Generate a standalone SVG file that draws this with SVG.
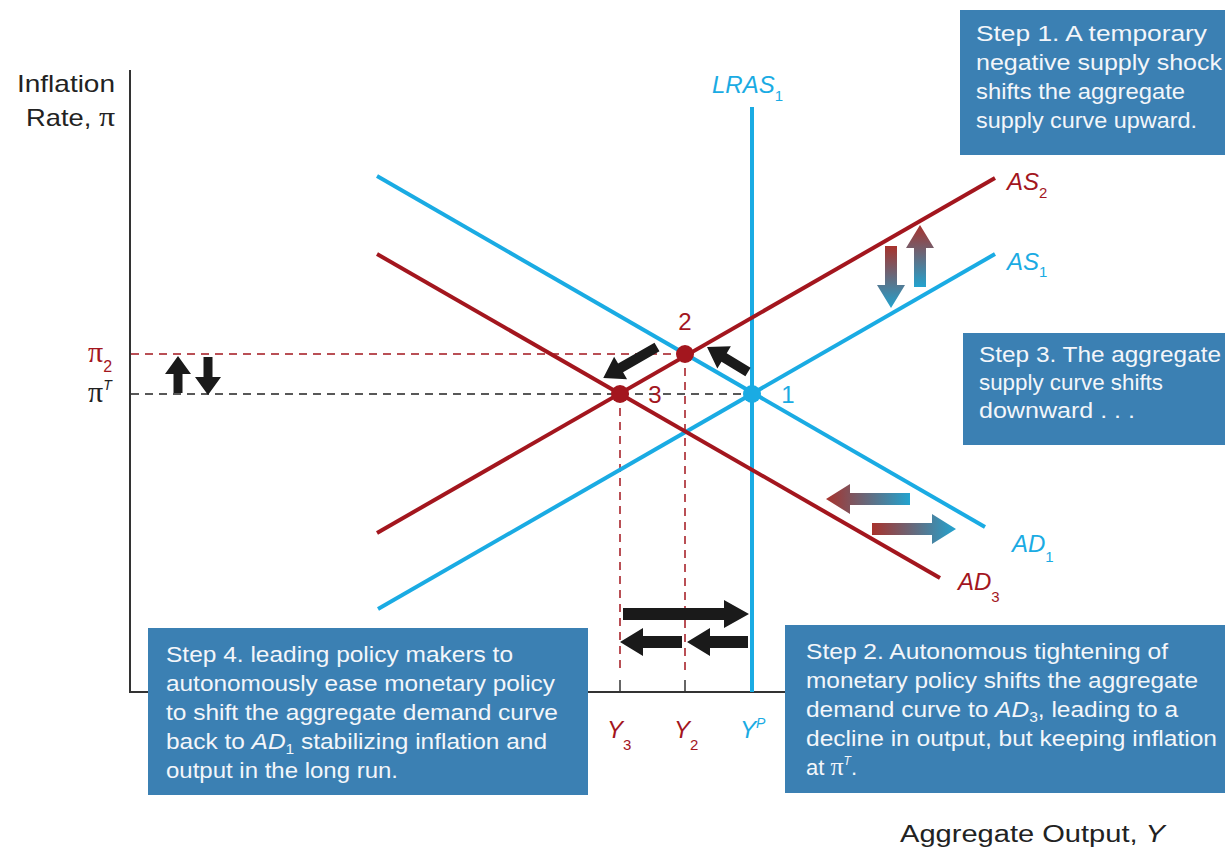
<svg xmlns="http://www.w3.org/2000/svg" width="1225" height="851" viewBox="0 0 1225 851">
<style>
.t{font-family:"Liberation Sans",Arial,sans-serif;}
.box{fill:#3b80b3;}
.bt{font-family:"Liberation Sans",Arial,sans-serif;font-size:22px;fill:#f3f6fa;}
.blue{stroke:#1aabe3;stroke-width:4;fill:none;}
.red{stroke:#a3161e;stroke-width:4;fill:none;}
.dr{stroke:#a3161e;stroke-width:1.5;stroke-dasharray:8 6;fill:none;}
.dk{stroke:#222;stroke-width:1.5;stroke-dasharray:8 6;fill:none;}
.lab{font-family:"Liberation Sans",Arial,sans-serif;font-size:24px;font-style:italic;}
.pi{font-family:"Liberation Serif","Times New Roman",serif;font-style:normal;}
.blk{fill:#1a1a1a;}
</style>
<defs>
<linearGradient id="gv" x1="0" y1="0" x2="0" y2="1"><stop offset="0" stop-color="#a8322c"/><stop offset="1" stop-color="#22a3cf"/></linearGradient>
<linearGradient id="gh" x1="0" y1="0" x2="1" y2="0"><stop offset="0" stop-color="#a8322c"/><stop offset="1" stop-color="#22a3cf"/></linearGradient>
</defs>
<rect width="1225" height="851" fill="#fff"/>

<g id="axes">
<line x1="130" y1="70" x2="130" y2="693" stroke="#333" stroke-width="2"/>
<line x1="129" y1="692" x2="1225" y2="692" stroke="#333" stroke-width="2"/>
<line x1="620" y1="680" x2="620" y2="692" stroke="#333" stroke-width="1.5"/>
<line x1="685" y1="680" x2="685" y2="692" stroke="#333" stroke-width="1.5"/>
<text class="t" x="115" y="92" font-size="24" text-anchor="end" fill="#222" textLength="98" lengthAdjust="spacingAndGlyphs">Inflation</text>
<text class="t" x="26" y="126" font-size="24" fill="#222" textLength="89" lengthAdjust="spacingAndGlyphs">Rate, <tspan class="pi" font-size="28">π</tspan></text>
<text class="t" x="900" y="842" font-size="23" fill="#222" textLength="265" lengthAdjust="spacingAndGlyphs">Aggregate Output, <tspan font-style="italic">Y</tspan></text>
</g>

<g id="guides">
<line class="dr" x1="131" y1="354" x2="685" y2="354"/>
<line class="dk" x1="131" y1="394" x2="752" y2="394"/>
<line class="dr" x1="620" y1="394" x2="620" y2="670"/>
<line class="dr" x1="685" y1="354" x2="685" y2="670"/>
</g>

<g id="curves">
<line id="LRAS1" class="blue" x1="752" y1="107" x2="752" y2="692"/>
<line id="AD1" class="blue" x1="377" y1="176" x2="985" y2="527"/>
<line id="AS1" class="blue" x1="378" y1="609" x2="995" y2="254"/>
<line id="AS2" class="red" x1="377" y1="533" x2="995" y2="178"/>
<line id="AD3" class="red" x1="377" y1="254" x2="940" y2="578"/>
</g>

<g id="points">
<circle cx="685" cy="354" r="9" fill="#a3161e"/>
<circle cx="620" cy="394" r="9" fill="#a3161e"/>
<circle cx="752" cy="394" r="9" fill="#1aabe3"/>
<text class="t" x="685" y="330" font-size="24" text-anchor="middle" fill="#a3161e">2</text>
<text class="t" x="655" y="403" font-size="24" text-anchor="middle" fill="#a3161e">3</text>
<text class="t" x="788" y="403" font-size="24" text-anchor="middle" fill="#1aabe3">1</text>
</g>

<g id="labels">
<text class="lab" x="712" y="93" fill="#1aabe3">LRAS<tspan font-size="15" dy="8" font-style="normal">1</tspan></text>
<text class="lab" x="1007" y="190" fill="#a3161e">AS<tspan font-size="15" dy="8" font-style="normal">2</tspan></text>
<text class="lab" x="1007" y="270" fill="#1aabe3">AS<tspan font-size="15" dy="7" font-style="normal">1</tspan></text>
<text class="lab" x="1012" y="552" fill="#1aabe3">AD<tspan font-size="15" dy="10" font-style="normal">1</tspan></text>
<text class="lab" x="958" y="590" fill="#a3161e">AD<tspan font-size="15" dy="12" font-style="normal">3</tspan></text>
<text class="pi" x="88" y="362" font-size="30" fill="#a3161e">π<tspan class="t" font-size="16" dy="10">2</tspan></text>
<text class="pi" x="88" y="402" font-size="30" fill="#222">π<tspan class="t" font-size="14" dy="-12" font-style="italic">T</tspan></text>
<text class="lab" x="607" y="738" fill="#a3161e">Y<tspan font-size="15" dy="12" font-style="normal">3</tspan></text>
<text class="lab" x="674" y="738" fill="#a3161e">Y<tspan font-size="15" dy="12" font-style="normal">2</tspan></text>
<text class="lab" x="740" y="738" fill="#1aabe3">Y<tspan font-size="14" dy="-10">P</tspan></text>
</g>

<g id="arrows">
<polygon class="blk" points="173.5,393 173.5,374 165,374 178,356 191,374 182.5,374 182.5,393"/>
<polygon class="blk" points="203.5,357 212.5,357 212.5,377 221,377 208,395 195,377 203.5,377"/>
<polygon class="blk" transform="translate(657,347) rotate(150.1)" points="0,-5 42,-5 42,-13 62,0 42,13 42,5 0,5"/>
<polygon class="blk" transform="translate(748,372) rotate(211.4)" points="0,-5 28,-5 28,-13 48,0 28,13 28,5 0,5"/>
<polygon class="blk" points="623,608 724,608 724,600 749,614 724,628 724,620 623,620"/>
<polygon class="blk" points="682,636 643,636 643,628 620,642 643,656 643,648 682,648"/>
<polygon class="blk" points="748,636 710,636 710,628 687,642 710,656 710,648 748,648"/>
<polygon fill="url(#gv)" points="885,246 897,246 897,285 905,285 891,308 877,285 885,285"/>
<polygon fill="url(#gv)" points="914,287 914,248 906,248 920,225 934,248 926,248 926,287"/>
<polygon fill="url(#gh)" points="910,493 850,493 850,484 826,499 850,514 850,505 910,505"/>
<polygon fill="url(#gh)" points="872,523 932,523 932,514 956,529 932,544 932,535 872,535"/>
</g>

<g id="step1">
<rect class="box" x="960" y="10" width="265" height="145"/>
<text class="bt" x="976" y="41" textLength="231" lengthAdjust="spacingAndGlyphs">Step 1. A temporary</text>
<text class="bt" x="976" y="70" textLength="246" lengthAdjust="spacingAndGlyphs">negative supply shock</text>
<text class="bt" x="976" y="99" textLength="209" lengthAdjust="spacingAndGlyphs">shifts the aggregate</text>
<text class="bt" x="976" y="128" textLength="221" lengthAdjust="spacingAndGlyphs">supply curve upward.</text>
</g>

<g id="step3">
<rect class="box" x="963" y="333" width="262" height="112"/>
<text class="bt" x="979" y="362" textLength="242" lengthAdjust="spacingAndGlyphs">Step 3. The aggregate</text>
<text class="bt" x="979" y="390" textLength="184" lengthAdjust="spacingAndGlyphs">supply curve shifts</text>
<text class="bt" x="979" y="418" textLength="156" lengthAdjust="spacingAndGlyphs">downward . . .</text>
</g>

<g id="step4">
<rect class="box" x="148" y="628" width="440" height="167"/>
<text class="bt" x="166" y="662" textLength="347" lengthAdjust="spacingAndGlyphs">Step 4. leading policy makers to</text>
<text class="bt" x="166" y="691" textLength="389" lengthAdjust="spacingAndGlyphs">autonomously ease monetary policy</text>
<text class="bt" x="166" y="720" textLength="392" lengthAdjust="spacingAndGlyphs">to shift the aggregate demand curve</text>
<text class="bt" x="166" y="749" textLength="381" lengthAdjust="spacingAndGlyphs">back to <tspan font-style="italic">AD</tspan><tspan font-size="14" dy="5">1</tspan><tspan dy="-5"> stabilizing inflation and</tspan></text>
<text class="bt" x="166" y="778" textLength="232" lengthAdjust="spacingAndGlyphs">output in the long run.</text>
</g>

<g id="step2">
<rect class="box" x="785" y="625" width="440" height="168"/>
<text class="bt" x="806" y="659" textLength="362" lengthAdjust="spacingAndGlyphs">Step 2. Autonomous tightening of</text>
<text class="bt" x="806" y="688" textLength="392" lengthAdjust="spacingAndGlyphs">monetary policy shifts the aggregate</text>
<text class="bt" x="806" y="717" textLength="372" lengthAdjust="spacingAndGlyphs">demand curve to <tspan font-style="italic">AD</tspan><tspan font-size="14" dy="5">3</tspan><tspan dy="-5">, leading to a</tspan></text>
<text class="bt" x="806" y="746" textLength="411" lengthAdjust="spacingAndGlyphs">decline in output, but keeping inflation</text>
<text class="bt" x="806" y="775">at <tspan class="pi" font-size="26">π</tspan><tspan font-size="12" dy="-10" font-style="italic">T</tspan><tspan dy="10">.</tspan></text>
</g>
</svg>
